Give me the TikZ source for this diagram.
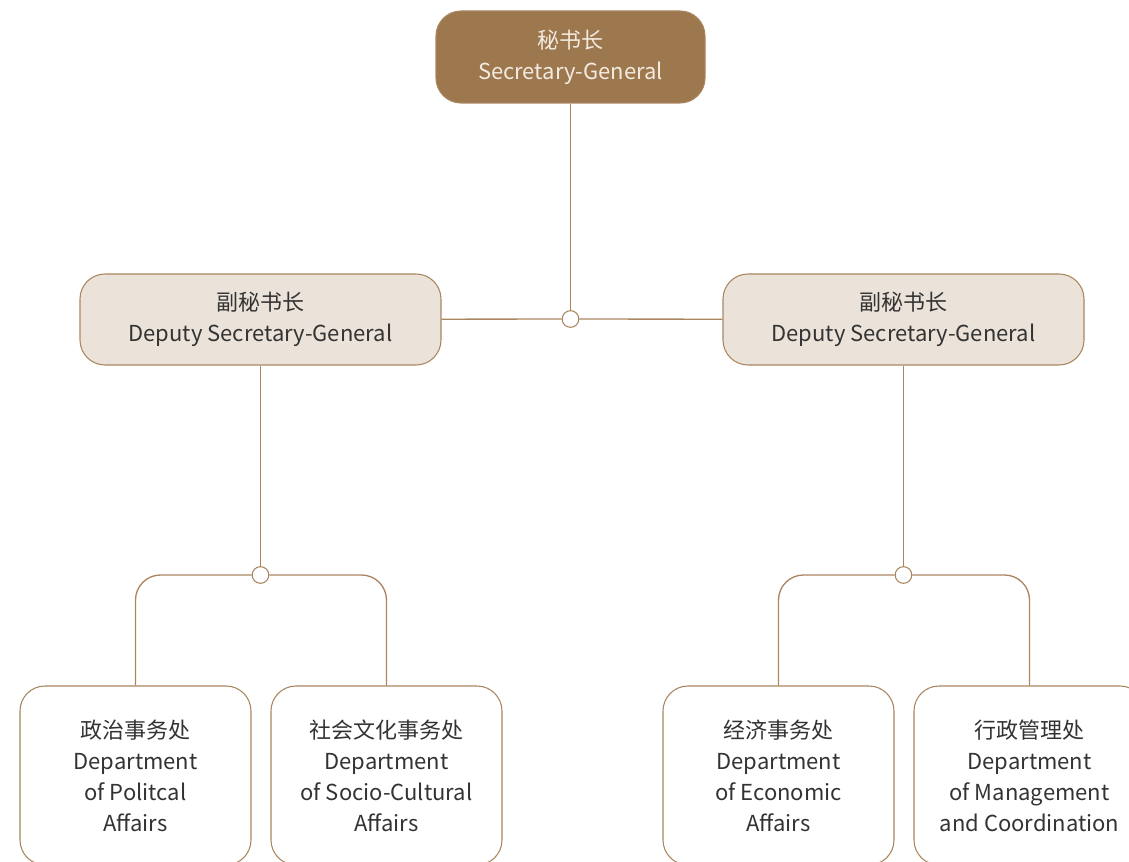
\documentclass[tikz,border=0pt]{standalone}
\usepackage{fontspec}
\setmainfont{Noto Sans CJK SC}
\definecolor{sgbrown}{RGB}{157,119,78}
\definecolor{linebrown}{RGB}{169,134,96}
\definecolor{beige}{RGB}{235,227,217}
\definecolor{lighttext}{RGB}{243,234,224}
\definecolor{darktext}{RGB}{51,51,51}

\begin{document}
\begin{tikzpicture}[x=0.75pt,y=-0.75pt]
            \tikzstyle{every node} = [align=center,font=\fontsize{16.5}{23.25}\selectfont,text=darktext];
            \tikzstyle{chief} = [rounded corners=18.75pt,draw=linebrown,fill=sgbrown,text=lighttext,minimum width=201.75pt,minimum height=69pt,line width=0.8pt];
            \tikzstyle{deputy} = [rounded corners=18.75pt,draw=linebrown,fill=beige,minimum width=270.75pt,minimum height=68.25pt,line width=0.8pt];
            \tikzstyle{dept} = [rounded corners=18.75pt,draw=linebrown,fill=white,minimum width=173.25pt,minimum height=134.25pt,line width=0.8pt];
            \tikzstyle{joint} = [circle,draw=linebrown,fill=white,minimum size=12.5pt,inner sep=0pt,line width=0.8pt];
            \tikzstyle{link} = [draw=linebrown,line width=1pt];
            \clip (0,0) rectangle (1129,862);
            % top level
            \node[chief] (sg) at (570.5,57) {秘书长\\Secretary-General};
            \node[joint] (jt) at (570.5,319) {};
            \node[deputy] (dl) at (260.5,319.5) {副秘书长\\Deputy Secretary-General};
            \node[deputy] (dr) at (903.5,319.5) {副秘书长\\Deputy Secretary-General};
            % departments
            \node[joint] (jl) at (260.5,575) {};
            \node[joint] (jr) at (903.5,575) {};
            \node[dept] (pol) at (135.5,775.5) {政治事务处\\Department\\of Politcal\\Affairs};
            \node[dept] (soc) at (386.5,775.5) {社会文化事务处\\Department\\of Socio-Cultural\\Affairs};
            \node[dept] (eco) at (778.5,775.5) {经济事务处\\Department\\of Economic\\Affairs};
            \node[dept] (mgt) at (1029.5,775.5) {行政管理处\\Department\\of Management\\and Coordination};
            \draw[link] (sg) -- (jt);
            \draw[link] (dl) -- (jt) -- (dr);
            \draw[link] (dl) -- (jl);
            \draw[link] (dr) -- (jr);
            \draw[link,rounded corners=18.75pt] (jl.west) -| (pol.north);
            \draw[link,rounded corners=18.75pt] (jl.east) -| (soc.north);
            \draw[link,rounded corners=18.75pt] (jr.west) -| (eco.north);
            \draw[link,rounded corners=18.75pt] (jr.east) -| (mgt.north);
        \end{tikzpicture}
\end{document}
